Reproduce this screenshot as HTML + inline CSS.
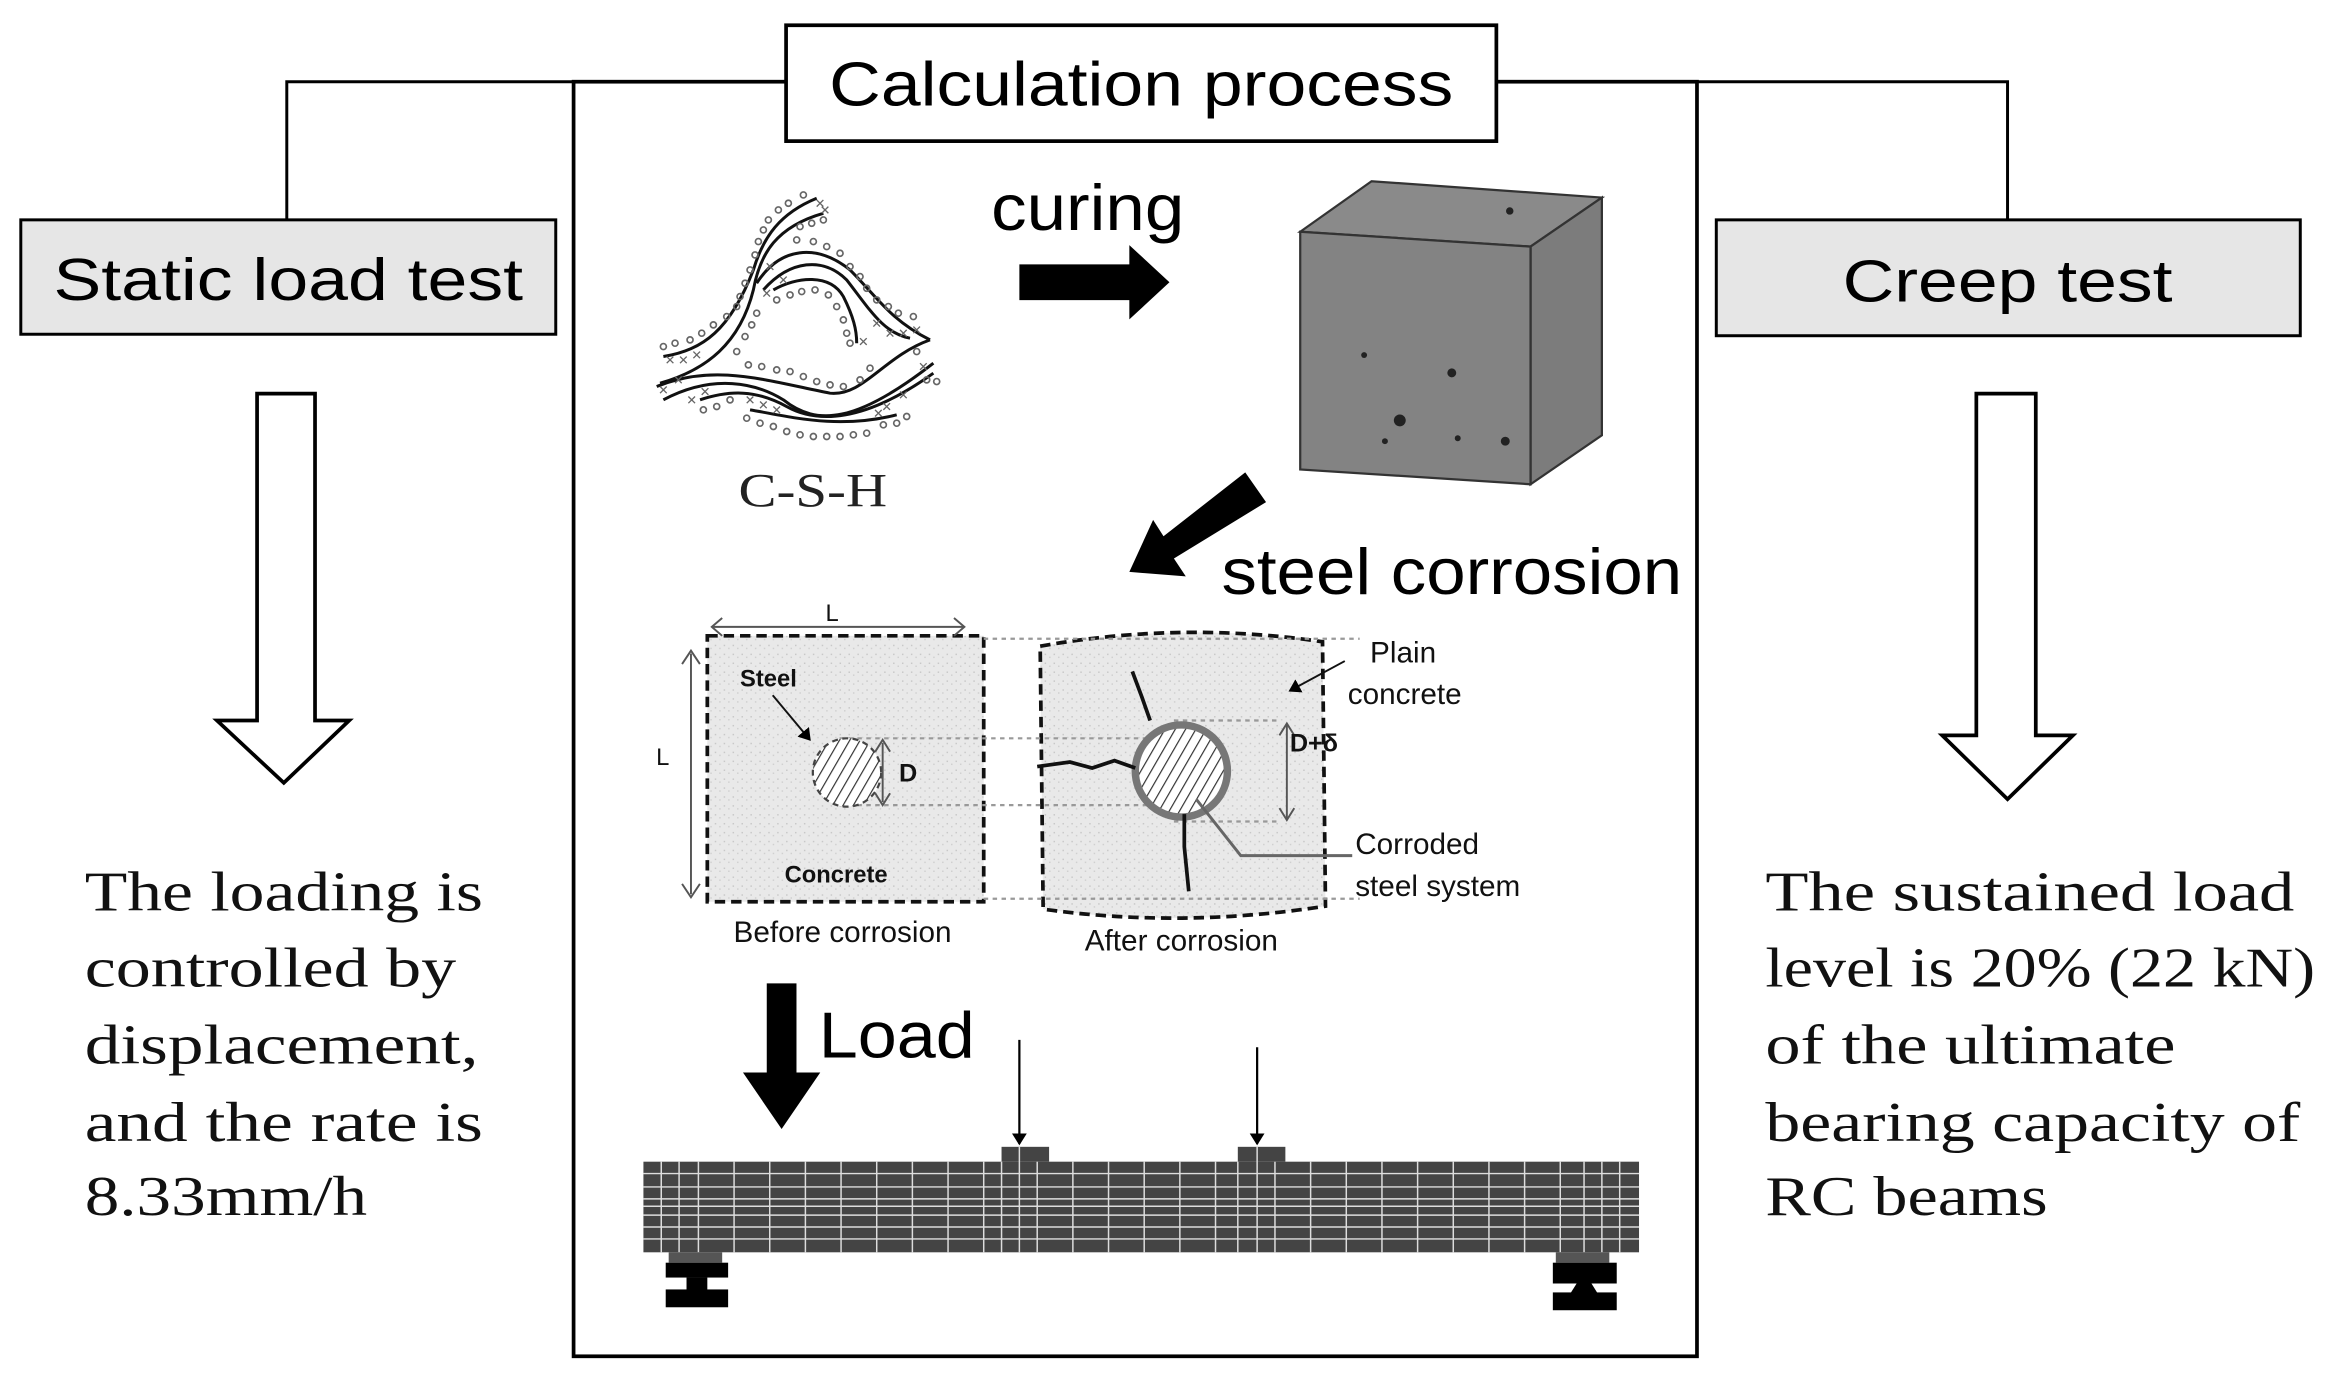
<!DOCTYPE html>
<html><head><meta charset="utf-8"><style>
html,body{margin:0;padding:0;background:#fff;}
svg{display:block;}
.sans{font-family:"Liberation Sans",sans-serif;}
.serif{font-family:"Liberation Serif",serif;}
</style></head><body>
<svg width="2330" height="1386" viewBox="0 0 1568 933" preserveAspectRatio="none" xmlns="http://www.w3.org/2000/svg">
<defs>
<pattern id="spk" width="6" height="6" patternUnits="userSpaceOnUse">
<rect width="6" height="6" fill="#e9e9e9"/><rect x="1" y="2" width="1" height="1" fill="#c8c8c8"/><rect x="4" y="4" width="1" height="1" fill="#d0d0d0"/>
</pattern>
<pattern id="hatch" width="6" height="6" patternUnits="userSpaceOnUse" patternTransform="rotate(30)">
<rect width="6" height="6" fill="#fff"/><line x1="0" y1="0" x2="0" y2="6" stroke="#333" stroke-width="1.6"/>
</pattern>
<marker id="ah" markerWidth="8" markerHeight="10" refX="7" refY="5" orient="auto" markerUnits="userSpaceOnUse"><path d="M0,0 L8,5 L0,10 Z" fill="#000"/></marker>
<g id="o"><circle r="9" fill="none" stroke="#666" stroke-width="5"/></g>
<g id="x"><path d="M-10,-10 L10,10 M10,-10 L-10,10" stroke="#666" stroke-width="4"/></g>
</defs>
<rect width="1568" height="933" fill="#fff"/>
<!-- connectors -->
<polyline points="193,148 193,55 529,55" fill="none" stroke="#000" stroke-width="2"/>
<polyline points="1007,55 1351,55 1351,148" fill="none" stroke="#000" stroke-width="2"/>
<!-- central box -->
<rect x="386" y="55" width="756" height="858" fill="none" stroke="#000" stroke-width="2.5"/>
<rect x="529" y="17" width="478" height="78" fill="#fff" stroke="#000" stroke-width="2.5"/>
<text x="768" y="71" class="sans" font-size="42" text-anchor="middle" textLength="420" lengthAdjust="spacingAndGlyphs">Calculation process</text>
<!-- side boxes -->
<rect x="14" y="148" width="360" height="77" fill="#e6e6e6" stroke="#000" stroke-width="2"/>
<text x="194" y="202" class="sans" font-size="40" text-anchor="middle" textLength="316" lengthAdjust="spacingAndGlyphs">Static load test</text>
<rect x="1155" y="148" width="393" height="78" fill="#e6e6e6" stroke="#000" stroke-width="2"/>
<text x="1351" y="203" class="sans" font-size="40" text-anchor="middle" textLength="222" lengthAdjust="spacingAndGlyphs">Creep test</text>
<!-- hollow arrows -->
<path d="M173,265 L212,265 L212,485 L235,485 L191,527 L146,485 L173,485 Z" fill="#fff" stroke="#000" stroke-width="2.5"/>
<path d="M1330,265 L1370,265 L1370,495 L1395,495 L1351,538 L1307,495 L1330,495 Z" fill="#fff" stroke="#000" stroke-width="2.5"/>
<!-- left/right text -->
<g class="serif" font-size="38" fill="#111">
<text x="57" y="613" textLength="268" lengthAdjust="spacingAndGlyphs">The loading is</text>
<text x="57" y="664" textLength="250" lengthAdjust="spacingAndGlyphs">controlled by</text>
<text x="57" y="716" textLength="265" lengthAdjust="spacingAndGlyphs">displacement,</text>
<text x="57" y="768" textLength="268" lengthAdjust="spacingAndGlyphs">and the rate is</text>
<text x="57" y="818" textLength="190" lengthAdjust="spacingAndGlyphs">8.33mm/h</text>
<text x="1188" y="613" textLength="356" lengthAdjust="spacingAndGlyphs">The sustained load</text>
<text x="1188" y="664" textLength="370" lengthAdjust="spacingAndGlyphs">level is 20% (22 kN)</text>
<text x="1188" y="716" textLength="276" lengthAdjust="spacingAndGlyphs">of the ultimate</text>
<text x="1188" y="768" textLength="360" lengthAdjust="spacingAndGlyphs">bearing capacity of</text>
<text x="1188" y="818" textLength="190" lengthAdjust="spacingAndGlyphs">RC beams</text>
</g>
<!-- C-S-H drawing -->
<g transform="translate(424,114.4) scale(0.2243)">
<g fill="none" stroke="#111" stroke-width="9">
<path d="M100,560 C220,540 300,480 370,300 C400,200 450,130 560,85"/>
<path d="M90,640 C230,600 330,520 370,360 C390,250 440,170 580,130"/>
<path d="M380,340 C450,230 560,220 660,300 C740,380 780,450 900,510"/>
<path d="M400,360 C480,270 580,260 650,330 C720,420 760,490 840,505"/>
<path d="M430,360 C500,320 600,310 640,380 C670,440 680,480 680,520"/>
<path d="M80,650 C250,580 400,630 600,670 C700,680 760,560 900,510"/>
<path d="M100,690 C250,610 380,640 460,690 C560,770 680,760 910,580"/>
<path d="M210,690 C300,660 380,660 470,710 C560,760 700,760 910,610"/>
<path d="M360,720 C480,740 620,780 800,735"/>
</g>
<use href="#o" x="100" y="530"/><use href="#o" x="135" y="520"/><use href="#o" x="180" y="510"/><use href="#o" x="215" y="490"/><use href="#o" x="250" y="465"/><use href="#o" x="290" y="440"/><use href="#o" x="320" y="410"/><use href="#o" x="330" y="380"/><use href="#o" x="345" y="340"/><use href="#o" x="360" y="300"/><use href="#o" x="375" y="255"/><use href="#o" x="385" y="215"/><use href="#o" x="400" y="180"/><use href="#o" x="415" y="150"/><use href="#o" x="445" y="120"/><use href="#o" x="475" y="100"/><use href="#o" x="520" y="75"/><use href="#o" x="545" y="160"/><use href="#o" x="580" y="150"/><use href="#o" x="510" y="170"/>
<use href="#o" x="440" y="390"/><use href="#o" x="480" y="375"/><use href="#o" x="515" y="365"/><use href="#o" x="555" y="360"/><use href="#o" x="595" y="375"/><use href="#o" x="620" y="410"/><use href="#o" x="640" y="450"/><use href="#o" x="650" y="490"/><use href="#o" x="660" y="520"/>
<use href="#o" x="500" y="210"/><use href="#o" x="550" y="215"/><use href="#o" x="590" y="230"/><use href="#o" x="630" y="250"/><use href="#o" x="660" y="290"/><use href="#o" x="690" y="320"/><use href="#o" x="710" y="355"/><use href="#o" x="740" y="390"/><use href="#o" x="775" y="410"/><use href="#o" x="805" y="430"/><use href="#o" x="850" y="440"/>
<use href="#o" x="355" y="585"/><use href="#o" x="395" y="590"/><use href="#o" x="440" y="600"/><use href="#o" x="480" y="605"/><use href="#o" x="520" y="620"/><use href="#o" x="560" y="635"/><use href="#o" x="600" y="645"/><use href="#o" x="640" y="650"/><use href="#o" x="690" y="630"/><use href="#o" x="720" y="595"/>
<use href="#o" x="350" y="745"/><use href="#o" x="390" y="760"/><use href="#o" x="430" y="770"/><use href="#o" x="470" y="785"/><use href="#o" x="510" y="795"/><use href="#o" x="550" y="800"/><use href="#o" x="590" y="800"/><use href="#o" x="630" y="800"/><use href="#o" x="670" y="795"/><use href="#o" x="710" y="790"/><use href="#o" x="760" y="765"/><use href="#o" x="800" y="760"/><use href="#o" x="830" y="740"/>
<use href="#o" x="220" y="720"/><use href="#o" x="260" y="710"/><use href="#o" x="300" y="690"/><use href="#o" x="890" y="630"/><use href="#o" x="920" y="635"/><use href="#o" x="860" y="545"/><use href="#o" x="320" y="545"/><use href="#o" x="345" y="500"/><use href="#o" x="365" y="465"/><use href="#o" x="380" y="430"/>
<use href="#x" x="120" y="570"/><use href="#x" x="160" y="570"/><use href="#x" x="200" y="555"/><use href="#x" x="100" y="660"/><use href="#x" x="145" y="630"/><use href="#x" x="185" y="690"/><use href="#x" x="225" y="665"/><use href="#x" x="360" y="690"/><use href="#x" x="400" y="705"/><use href="#x" x="440" y="720"/><use href="#x" x="740" y="460"/><use href="#x" x="780" y="490"/><use href="#x" x="820" y="490"/><use href="#x" x="860" y="480"/><use href="#x" x="880" y="590"/><use href="#x" x="820" y="675"/><use href="#x" x="770" y="710"/><use href="#x" x="745" y="730"/><use href="#x" x="420" y="290"/><use href="#x" x="460" y="330"/><use href="#x" x="410" y="370"/><use href="#x" x="700" y="515"/><use href="#x" x="570" y="100"/><use href="#x" x="585" y="120"/>
</g>
<text x="547" y="341" class="serif" font-size="32" text-anchor="middle" fill="#222" textLength="100" lengthAdjust="spacingAndGlyphs">C-S-H</text>
<!-- curing -->
<text x="732" y="155" class="sans" font-size="44" text-anchor="middle" textLength="130" lengthAdjust="spacingAndGlyphs">curing</text>
<path d="M686,178 L760,178 L760,165 L787,190 L760,215 L760,202 L686,202 Z" fill="#000"/>
<!-- cube -->
<polygon points="875,156 923,122 1078,133 1030,166" fill="#8a8a8a" stroke="#333" stroke-width="1.5"/>
<polygon points="1030,166 1078,133 1078,293 1030,326" fill="#7c7c7c" stroke="#333" stroke-width="1.5"/>
<polygon points="875,156 1030,166 1030,326 875,316" fill="#838383" stroke="#333" stroke-width="1.5"/>
<g fill="#222"><circle cx="977" cy="251" r="3"/><circle cx="918" cy="239" r="2"/><circle cx="942" cy="283" r="4"/><circle cx="1013" cy="297" r="3"/><circle cx="932" cy="297" r="2"/><circle cx="981" cy="295" r="2"/><circle cx="1016" cy="142" r="2.5"/></g>
<!-- steel corrosion arrow -->
<path d="M838,318 L852,338 L790,376 L798,388 L760,385 L776,350 L783,361 Z" fill="#000"/>
<text x="977" y="400" class="sans" font-size="44" text-anchor="middle" textLength="310" lengthAdjust="spacingAndGlyphs">steel corrosion</text>
<!-- corrosion diagram -->
<rect x="476" y="428" width="186" height="179" fill="url(#spk)" stroke="#111" stroke-width="2.5" stroke-dasharray="7,4"/>
<path d="M700,435 Q795,418 890,432 L892,610 Q795,625 702,612 Z" fill="url(#spk)" stroke="#111" stroke-width="2.5" stroke-dasharray="7,4"/>
<g stroke="#999" stroke-width="1.5" stroke-dasharray="3,3" fill="none">
<line x1="662" y1="430" x2="915" y2="430"/><line x1="662" y1="605" x2="915" y2="605"/>
<line x1="565" y1="497" x2="780" y2="497"/><line x1="565" y1="542" x2="780" y2="542"/>
<line x1="790" y1="485" x2="862" y2="485"/><line x1="790" y1="553" x2="862" y2="553"/>
</g>
<ellipse cx="570" cy="520" rx="23" ry="23" fill="url(#hatch)" stroke="#444" stroke-width="1.5" stroke-dasharray="4,3"/>
<circle cx="795" cy="519" r="31" fill="url(#hatch)" stroke="#777" stroke-width="5"/>
<g stroke="#555" stroke-width="1.3" fill="none">
<line x1="480" y1="422" x2="648" y2="422"/><path d="M486,416 L479,422 L486,428 M642,416 L649,422 L642,428"/>
<line x1="465" y1="440" x2="465" y2="602"/><path d="M459,447 L465,438 L471,447 M459,595 L465,604 L471,595"/>
<line x1="594" y1="500" x2="594" y2="540"/><path d="M589,506 L594,498 L599,506 M589,534 L594,542 L599,534"/>
<line x1="866" y1="488" x2="866" y2="551"/><path d="M861,495 L866,487 L871,495 M861,544 L866,552 L871,544"/>
</g>
<path d="M520,468 L545,498" stroke="#111" stroke-width="1.3" marker-end="url(#ah)"/>
<path d="M905,445 L868,465" stroke="#111" stroke-width="1.3" marker-end="url(#ah)"/>
<polyline points="910,576 835,576 805,538" fill="none" stroke="#666" stroke-width="2"/>
<g fill="none" stroke="#111" stroke-width="2.5">
<path d="M698,516 L720,513 L735,517 L750,512 L764,517"/>
<path d="M762,452 L768,468 L774,485"/>
<path d="M797,548 L797,570 L800,600"/>
</g>
<g class="sans" fill="#111">
<text x="560" y="418" font-size="16" text-anchor="middle">L</text>
<text x="446" y="515" font-size="16" text-anchor="middle">L</text>
<text x="498" y="462" font-size="16" font-weight="bold">Steel</text>
<text x="605" y="526" font-size="17" font-weight="bold">D</text>
<text x="528" y="594" font-size="16" font-weight="bold">Concrete</text>
<text x="868" y="506" font-size="17" font-weight="bold">D+δ</text>
<text x="922" y="446" font-size="20">Plain</text>
<text x="907" y="474" font-size="20">concrete</text>
<text x="912" y="575" font-size="20">Corroded</text>
<text x="912" y="603" font-size="20">steel system</text>
<text x="567" y="634" font-size="20" text-anchor="middle">Before corrosion</text>
<text x="795" y="640" font-size="20" text-anchor="middle">After corrosion</text>
</g>
<!-- Load arrow -->
<path d="M516,662 L536,662 L536,722 L552,722 L526,760 L500,722 L516,722 Z" fill="#000"/>
<text x="551" y="712" class="sans" font-size="44" textLength="105" lengthAdjust="spacingAndGlyphs">Load</text>
<line x1="686" y1="700" x2="686" y2="770" stroke="#000" stroke-width="1.5" marker-end="url(#ah)"/>
<line x1="846" y1="705" x2="846" y2="770" stroke="#000" stroke-width="1.5" marker-end="url(#ah)"/>
<!-- beam -->
<rect x="674" y="772" width="32" height="10" fill="#444"/>
<rect x="833" y="772" width="32" height="10" fill="#444"/>
<rect x="433" y="782" width="670" height="61" fill="#444"/>
<g stroke="#ddd" stroke-width="1">
<line x1="433" y1="790" x2="1103" y2="790"/><line x1="433" y1="799" x2="1103" y2="799"/><line x1="433" y1="807" x2="1103" y2="807"/><line x1="433" y1="812" x2="1103" y2="812"/><line x1="433" y1="818" x2="1103" y2="818"/><line x1="433" y1="826" x2="1103" y2="826"/><line x1="433" y1="834" x2="1103" y2="834"/>
<line x1="445" y1="782" x2="445" y2="843"/><line x1="457" y1="782" x2="457" y2="843"/><line x1="470" y1="782" x2="470" y2="843"/><line x1="494" y1="782" x2="494" y2="843"/><line x1="518" y1="782" x2="518" y2="843"/><line x1="542" y1="782" x2="542" y2="843"/><line x1="566" y1="782" x2="566" y2="843"/><line x1="590" y1="782" x2="590" y2="843"/><line x1="614" y1="782" x2="614" y2="843"/><line x1="638" y1="782" x2="638" y2="843"/><line x1="662" y1="782" x2="662" y2="843"/><line x1="674" y1="782" x2="674" y2="843"/><line x1="686" y1="772" x2="686" y2="843"/><line x1="698" y1="782" x2="698" y2="843"/><line x1="722" y1="782" x2="722" y2="843"/><line x1="746" y1="782" x2="746" y2="843"/><line x1="770" y1="782" x2="770" y2="843"/><line x1="794" y1="782" x2="794" y2="843"/><line x1="818" y1="782" x2="818" y2="843"/><line x1="833" y1="782" x2="833" y2="843"/><line x1="846" y1="772" x2="846" y2="843"/><line x1="858" y1="782" x2="858" y2="843"/><line x1="882" y1="782" x2="882" y2="843"/><line x1="906" y1="782" x2="906" y2="843"/><line x1="930" y1="782" x2="930" y2="843"/><line x1="954" y1="782" x2="954" y2="843"/><line x1="978" y1="782" x2="978" y2="843"/><line x1="1002" y1="782" x2="1002" y2="843"/><line x1="1026" y1="782" x2="1026" y2="843"/><line x1="1050" y1="782" x2="1050" y2="843"/><line x1="1066" y1="782" x2="1066" y2="843"/><line x1="1078" y1="782" x2="1078" y2="843"/><line x1="1090" y1="782" x2="1090" y2="843"/>
</g>
<!-- supports -->
<rect x="450" y="843" width="36" height="7" fill="#555"/>
<rect x="448" y="850" width="42" height="10" fill="#000"/><rect x="462" y="860" width="14" height="10" fill="#000"/><rect x="448" y="868" width="42" height="12" fill="#000"/>
<rect x="1047" y="843" width="36" height="7" fill="#555"/>
<rect x="1045" y="850" width="43" height="14" fill="#000"/><path d="M1061,864 L1071,864 L1076,872 L1056,872 Z" fill="#000"/><rect x="1045" y="870" width="43" height="12" fill="#000"/>
</svg>
</body></html>
